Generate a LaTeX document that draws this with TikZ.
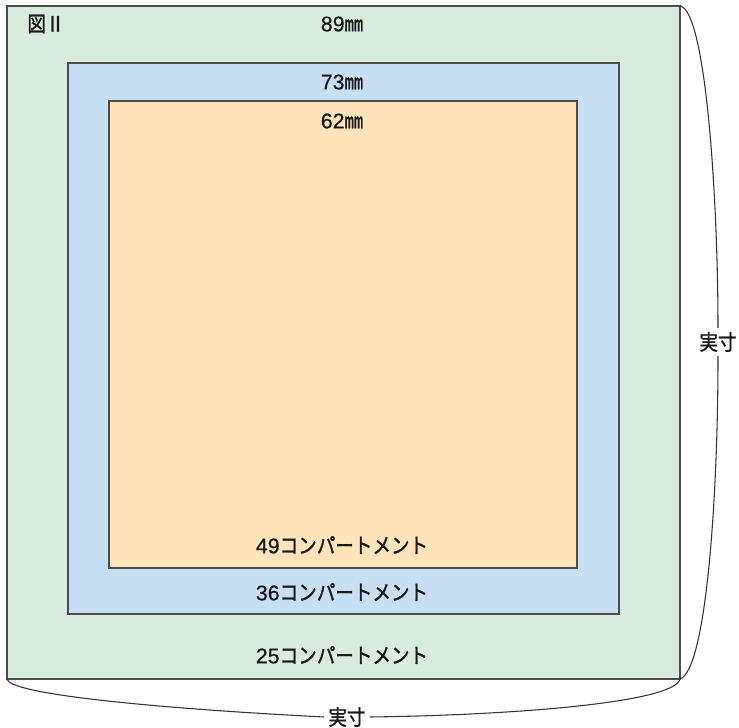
\documentclass[tikz,border=0pt]{standalone}
\usepackage{fontspec}
\setmainfont{Noto Sans CJK JP}[FakeBold=1.2, FakeStretch=0.87]
\newfontfamily\latinnum{Liberation Sans}[FakeBold=0.6]
\usetikzlibrary{positioning}

\definecolor{outergreen}{HTML}{D9EBDD}
\definecolor{midblue}{HTML}{C7DFF3}
\definecolor{innerorange}{HTML}{FFE3B9}

\newcommand{\nm}[1]{{\latinnum #1}}

\tikzset{
  frame/.style={draw=black!70, line width=0.9pt},
  lbl/.style={font=\fontsize{16pt}{19pt}\selectfont, text=black!90, inner sep=1pt},
  bracket/.style={draw=black!80, line width=0.8pt}
}

\begin{document}
\begin{tikzpicture}[x=0.75pt, y=-0.75pt]
    \useasboundingbox (0,0) rectangle (739,728);

    % Frames
    \fill[outergreen] (7,6) rectangle (680,679);
    \draw[frame] (7,6) rectangle (680,679);
    \fill[midblue] (68,63) rectangle (619,614);
    \draw[frame] (68,63) rectangle (619,614);
    \fill[innerorange] (109,101) rectangle (577,568);
    \draw[frame] (109,101) rectangle (577,568);

    \coordinate (tl) at (7,679);
    \coordinate (tr) at (680,6);
    \coordinate (br) at (680,679);

    % Labels
    \node[lbl] (fig) at (46,24) {図Ⅱ};
    \node[lbl] (w89) at (342,24) {\nm{89}㎜};
    \node[lbl] (w73) at (342,82) {\nm{73}㎜};
    \node[lbl] (w62) at (342,121) {\nm{62}㎜};
    \node[lbl] (c49) at (342,545) {\nm{49}コンパートメント};
    \node[lbl] (c36) at (342,592) {\nm{36}コンパートメント};
    \node[lbl] (c25) at (342,655) {\nm{25}コンパートメント};

    % Brackets
    \node[lbl, inner sep=3pt] (side) at (718,342) {実寸};
    \node[lbl, inner sep=3pt] (base) at (347,717) {実寸};
    \draw[bracket] (tr) .. controls (706,10) and (718,200) .. (side.north);
    \draw[bracket] (side.south) .. controls (718,500) and (706,670) .. (br);
    \draw[bracket] (tl) .. controls (9,694) and (150,708) .. (base.west);
    \draw[bracket] (base.east) .. controls (520,715) and (675,702) .. (br);
\end{tikzpicture}
\end{document}
